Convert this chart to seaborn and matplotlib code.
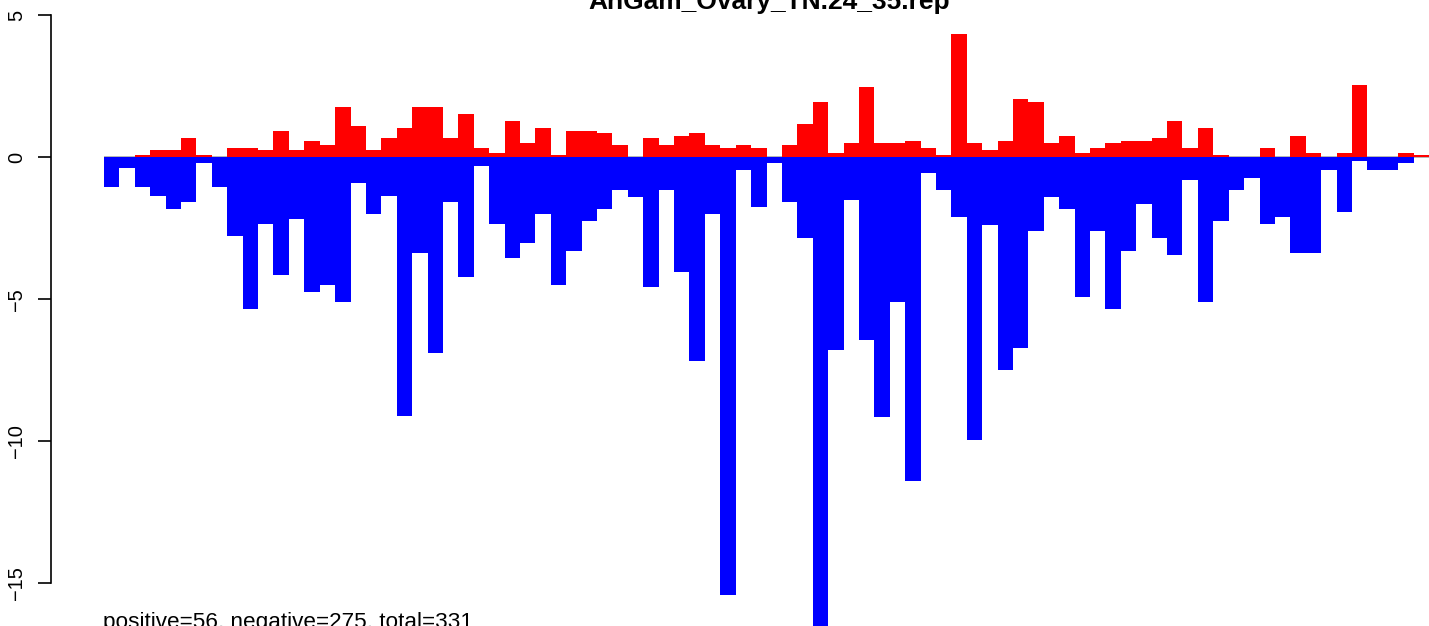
import numpy as np
import pandas as pd
import matplotlib
matplotlib.use("Agg")
import matplotlib.pyplot as plt
import seaborn as sns

title = "AnGam_Ovary_TN.24_35.rep"
footer = "positive=56, negative=275, total=331"

bins = [f"b{i:02d}" for i in range(86)]

pos_vals = [0, 0, 0.08, 0.26, 0.26, 0.69, 0.08, 0, 0.34, 0.34,
            0.26, 0.93, 0.26, 0.58, 0.43, 1.77, 1.10, 0.26, 0.69, 1.04,
            1.77, 1.77, 0.69, 1.53, 0.34, 0.15, 1.28, 0.50, 1.03, 0.08,
            0.93, 0.93, 0.86, 0.43, 0, 0.68, 0.43, 0.75, 0.86, 0.43,
            0.33, 0.43, 0.33, 0, 0.43, 1.17, 1.95, 0.15, 0.50, 2.48,
            0.50, 0.50, 0.58, 0.33, 0.08, 4.34, 0.50, 0.26, 0.58, 2.05,
            1.95, 0.50, 0.75, 0.15, 0.33, 0.50, 0.58, 0.58, 0.68, 1.28,
            0.33, 1.03, 0.08, 0, 0, 0.33, 0, 0.75, 0.15, 0,
            0.15, 2.55, 0, 0, 0.15, 0.08]

neg_vals = [-1.03, -0.37, -1.03, -1.38, -1.81, -1.56, -0.19, -1.03, -2.76, -5.33,
            -2.34, -4.13, -2.16, -4.73, -4.48, -5.08, -0.89, -1.98, -1.38, -9.10,
            -3.36, -6.88, -1.56, -4.20, -0.30, -2.34, -3.53, -3.00, -2.00, -4.48,
            -3.29, -2.23, -1.82, -1.15, -1.40, -4.55, -1.15, -4.04, -7.19, -2.00,
            -15.40, -0.45, -1.74, -0.19, -1.56, -2.83, -16.6, -6.77, -1.50, -6.42,
            -9.15, -5.09, -11.39, -0.54, -1.14, -2.09, -9.94, -2.40, -7.48, -6.70,
            -2.58, -1.40, -1.81, -4.91, -2.58, -5.33, -3.29, -1.63, -2.83, -3.43,
            -0.79, -5.08, -2.23, -1.14, -0.72, -2.34, -2.09, -3.36, -3.36, -0.43,
            -1.91, -0.12, -0.43, -0.43, -0.19, 0]

ytick_vals = [5, 0, -5, -10, -15]

df = pd.DataFrame({"bin": bins, "pos": pos_vals, "neg": neg_vals})

sns.set_style("white")
plt.rcParams["font.family"] = ["Liberation Sans", "DejaVu Sans"]
plt.rcParams["text.color"] = "black"
plt.rcParams["ytick.color"] = "black"
plt.rcParams["ytick.labelcolor"] = "black"

W, H = 1429, 626
fig = plt.figure(figsize=(W / 100, H / 100), dpi=100)

# axes placement in pixels
left_px, right_px = 51, 1482
ylo, yhi = -17.44, 5.19
zero_px, ppu = 157.3, 28.4
top_px = zero_px - yhi * ppu
bot_px = zero_px - ylo * ppu
ax = fig.add_axes([left_px / W, 1 - bot_px / H, (right_px - left_px) / W, (bot_px - top_px) / H])
ax.set_facecolor("none")

n = len(bins)
ax.hlines(0, -0.5, n - 0.5, color="#A8A8A8", lw=1.2, zorder=0)
sns.barplot(data=df, x="bin", y="neg", color="#0000FF", width=1, saturation=1,
            errorbar=None, linewidth=0, ax=ax, zorder=2)
sns.barplot(data=df, x="bin", y="pos", color="#FF0000", width=1, saturation=1,
            errorbar=None, linewidth=0, ax=ax, zorder=2)

ax.set_xlim(-0.5 - 0.04 * n, n - 0.5 + 0.04 * n)
ax.set_ylim(ylo, yhi)
ax.set_xlabel("")
ax.set_ylabel("")
ax.set_xticks([])
for s in ["top", "right", "bottom"]:
    ax.spines[s].set_visible(False)
ax.spines["left"].set_bounds(-15, 5)
ax.spines["left"].set_linewidth(1.2)
ax.spines["left"].set_color("black")
ax.set_yticks(ytick_vals)
ax.set_yticklabels([str(v).replace("-", "\u2212") for v in ytick_vals])
ax.tick_params(axis="y", length=9.4, width=1.2, pad=8.5, labelsize=14.4,
               color="black", labelcolor="black", left=True)
for lab in ax.get_yticklabels():
    lab.set_rotation(90)
    lab.set_va("center")
    lab.set_ha("right")

fig.text(769 / W, 1 - 9 / H, title, ha="center", va="baseline",
         fontsize=19, fontweight="bold", color="black")
fig.text(103 / W, 1 - 628 / H, footer, ha="left", va="baseline",
         fontsize=16.2, color="black")

fig.savefig("out.png", dpi=100)
